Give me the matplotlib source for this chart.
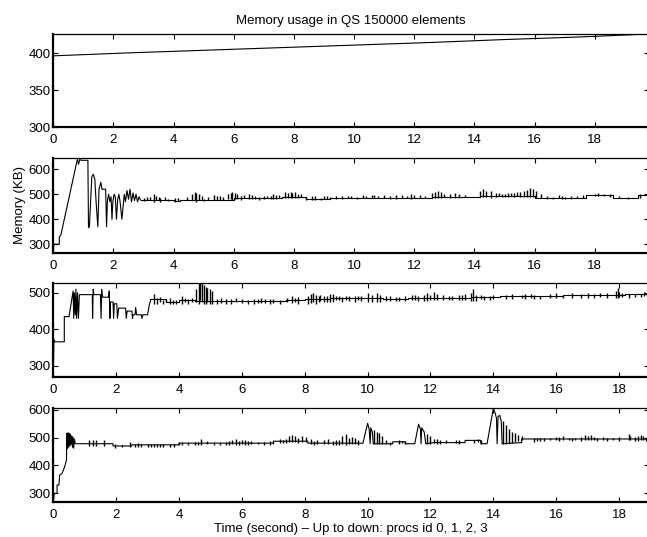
import numpy as np
import matplotlib.pyplot as plt

plt.rcParams['font.family'] = ['Liberation Sans', 'DejaVu Sans']

# proc 0: slow linear growth
t0 = [0, 2.5, 5, 7.5, 10, 12.5, 15, 17.5, 19.8]
m0 = [396.5, 400.5, 404, 407.5, 411, 414.5, 418.5, 422, 426]

# proc 1: start-up transient, then step baseline + spikes
tr1_t = [0, 0.02, 0.2, 0.2, 0.25, 0.8, 0.84, 0.88, 0.92, 1.15, 1.17, 1.2, 1.28, 1.33, 1.38,
         1.42, 1.48, 1.52, 1.58, 1.62, 1.74, 1.77, 1.8, 1.84, 1.88, 1.92, 1.95, 1.98, 2.02,
         2.06, 2.1, 2.14, 2.18, 2.22, 2.28, 2.32, 2.36, 2.4, 2.45, 2.5, 2.55, 2.6, 2.65, 2.7,
         2.75, 2.8, 2.85, 2.9]
tr1_m = [266, 300, 300, 330, 336, 640, 620, 640, 636, 636, 366, 370, 570, 580, 560,
         475, 370, 520, 548, 520, 520, 370, 475, 500, 470, 490, 400, 470, 500,
         490, 400, 480, 500, 470, 400, 450, 500, 470, 515, 480, 520, 470, 505, 475,
         500, 470, 490, 477]
st1_t = [2.9, 4.0, 4.2, 5.3, 6.0, 7.6, 8.4, 9.2, 12.6, 14.2, 16.0, 17.7, 18.6, 19.45, 19.8]
st1_m = [477, 475, 477, 478, 484, 490, 481, 486, 488, 494, 487, 497, 487, 497, 497]
sp1_t = [3.2, 3.35, 3.4, 3.5, 3.55, 4.05, 4.15, 4.6, 4.7, 4.75, 4.85, 4.95, 5.35, 5.45, 5.55,
         5.8, 5.9, 5.95, 6.05, 6.1, 6.5, 6.6, 6.7, 7.0, 7.25, 7.3, 7.4, 7.7, 7.8, 7.9, 7.95,
         8.05, 8.4, 8.6, 8.7, 9.0, 9.2, 9.4, 9.6, 9.9, 10.3, 10.4, 10.8, 11.0, 11.4, 11.6,
         11.9, 12.0, 12.6, 12.7, 12.8, 12.9, 13.2, 13.35, 13.5, 14.2, 14.3, 14.4, 14.55, 14.7,
         14.9, 15.1, 15.3, 15.5, 15.65, 15.75, 15.85, 15.95, 16.05, 16.2, 16.4, 16.6, 16.9,
         17.2, 17.6, 18.0, 18.1, 18.3, 18.5, 19.5,
         3.0, 3.1, 3.7, 3.8, 4.45, 5.0, 5.15, 5.65, 6.25, 6.35, 6.85, 7.1, 7.5, 8.15, 8.25,
         8.9, 9.1, 9.8, 10.1, 10.6, 10.65, 11.2, 11.75, 12.2, 12.35, 13.0, 13.7, 14.8, 15.0,
         15.2, 15.4, 16.8, 17.0, 17.4, 18.8, 19.1]
sp1_lo = [477, 470, 477, 477, 470, 470, 475, 478, 478, 470, 478, 478, 477, 477, 477,
          480, 480, 478, 482, 482, 482, 482, 482, 482, 482, 482, 482, 485, 485, 485, 485,
          485, 478, 478, 478, 480, 480, 482, 482, 484, 484, 484, 484, 484, 480, 484,
          480, 484, 484, 484, 484, 484, 484, 484, 484, 488, 488, 488, 485, 488,
          488, 488, 488, 488, 488, 488, 488, 488, 485, 485, 482, 482, 482,
          482, 485, 492, 492, 492, 488, 485,
          472, 477, 477, 472, 477, 472, 477, 478, 478, 484, 478, 484, 484, 484, 490,
          476, 481, 486, 482, 486, 486, 482, 486, 486, 484, 488, 488, 494, 490,
          494, 494, 487, 482, 487, 487, 482]
sp1_hi = [490, 500, 495, 490, 485, 485, 485, 500, 510, 505, 500, 495, 498, 495, 492,
          500, 505, 510, 505, 500, 500, 498, 495, 492, 495, 500, 498, 510, 505, 508, 505,
          508, 490, 492, 495, 492, 488, 492, 495, 492, 498, 494, 494, 496, 498, 496,
          500, 498, 506, 510, 515, 508, 502, 505, 500, 512, 520, 515, 512, 505,
          502, 505, 504, 508, 512, 518, 525, 520, 512, 500, 495, 490, 492,
          495, 497, 500, 505, 503, 500, 500,
          485, 488, 490, 482, 490, 480, 488, 490, 495, 496, 490, 494, 496, 500, 502,
          487, 492, 494, 490, 496, 498, 492, 495, 498, 492, 500, 498, 505, 502,
          506, 510, 496, 490, 495, 494, 490]

# proc 2
tr2_t = [0, 0.02, 0.04, 0.35, 0.35, 0.5, 0.63, 0.65, 0.67, 0.7, 0.72, 0.74, 0.77, 0.8, 0.83,
         1.24, 1.25, 1.27, 1.29, 1.5, 1.52, 1.54, 1.57, 1.76, 1.78, 1.8, 1.82, 1.9, 1.92,
         1.94, 2.02, 2.04, 2.08, 2.1, 2.3, 2.32, 2.35, 2.5, 2.52, 2.54, 2.6, 2.62, 2.65,
         2.8, 2.82, 2.85, 3.0, 3.05, 3.1]
tr2_m = [270, 372, 366, 366, 435, 435, 505, 430, 500, 440, 510, 430, 500, 430, 495,
         495, 430, 510, 495, 495, 430, 510, 488, 488, 505, 430, 475, 475, 430,
         470, 470, 430, 458, 458, 458, 430, 450, 450, 430, 440, 440, 460, 440,
         440, 430, 440, 440, 465, 482]
st2_t = [3.1, 3.6, 4.0, 4.5, 5.1, 6.2, 7.4, 8.0, 8.8, 10.5, 11.3, 12.3, 13.3, 14.2, 15.3,
         16.2, 17.3, 18.2, 18.95]
st2_m = [482, 476, 480, 478, 477, 478, 480, 482, 485, 483, 487, 485, 488, 490, 492,
         493, 495, 497, 497]
sp2_t = [3.2, 3.3, 3.5, 3.7, 3.9, 4.1, 4.3, 4.55, 4.62, 4.66, 4.72, 4.78, 4.85, 4.9, 4.98,
         5.05, 5.5, 5.8, 6.2, 6.4, 6.6, 6.9, 7.2, 7.6, 7.8, 8.1, 8.2, 8.25, 8.35, 8.5, 8.6,
         8.8, 8.9, 9.2, 9.4, 9.6, 9.8, 10.0, 10.15, 10.3, 10.4, 10.7, 11.0, 11.2, 11.6,
         11.8, 11.9, 12.1, 12.2, 12.4, 12.6, 12.9, 13.1, 13.3, 13.35, 13.45, 13.7, 13.9,
         14.4, 14.9, 15.0, 15.3, 15.5, 16.2, 16.8, 17.2, 17.6, 17.9, 17.95, 18.1, 18.3,
         18.5, 18.7,
         3.4, 3.6, 3.8, 4.2, 4.4, 5.2, 5.35, 5.65, 6.0, 6.5, 6.75, 7.0, 7.45, 7.7, 8.45,
         8.7, 9.0, 9.1, 9.3, 9.7, 10.6, 10.9, 11.4, 11.5, 12.0, 12.7, 13.0, 13.6, 14.0,
         14.6, 15.2, 15.8, 16.0, 16.5, 17.0, 17.4, 18.0, 18.8, 18.9]
sp2_lo = [470, 470, 470, 470, 470, 470, 470, 475, 470, 480, 475, 470, 470, 475, 470,
          470, 470, 475, 470, 470, 472, 470, 470, 472, 470, 470, 472, 475, 470, 478, 475,
          476, 476, 475, 478, 475, 478, 475, 476, 476, 476, 478, 478, 478, 478,
          478, 478, 480, 480, 480, 480, 480, 480, 478, 478, 478, 480, 480,
          482, 485, 484, 484, 484, 485, 485, 485, 486, 485, 485, 488, 486,
          488, 488,
          476, 476, 470, 474, 474, 470, 472, 470, 472, 472, 472, 472, 474, 474, 476,
          476, 479, 479, 479, 479, 477, 477, 481, 481, 481, 480, 480, 482, 482,
          484, 486, 486, 487, 487, 487, 489, 489, 491, 491]
sp2_hi = [498, 485, 480, 485, 480, 490, 482, 510, 526, 526, 526, 520, 515, 512, 510,
          505, 482, 485, 480, 482, 485, 482, 480, 490, 488, 492, 498, 500, 495, 495, 490,
          498, 498, 488, 490, 490, 492, 500, 495, 500, 495, 490, 488, 492, 492,
          495, 500, 503, 498, 495, 490, 495, 498, 500, 510, 495, 492, 490,
          495, 493, 496, 495, 492, 494, 496, 496, 500, 505, 512, 500, 498,
          496, 498,
          488, 484, 480, 486, 485, 482, 485, 482, 482, 484, 484, 482, 486, 485, 490,
          490, 490, 492, 491, 492, 490, 488, 494, 494, 494, 492, 494, 495, 494,
          497, 498, 498, 500, 499, 499, 500, 502, 502, 502]

# proc 3: one long path incl. the bumps near 10, 11.6 and 14 s
tr3_t = [0, 0.03, 0.12, 0.12, 0.18, 0.2, 0.28, 0.36, 0.42, 0.43, 0.45, 0.47, 0.49, 0.51,
         0.53, 0.55, 0.57, 0.59, 0.61, 0.63, 0.65, 0.67, 0.7, 1.9, 1.9, 2.5, 2.5, 4.0, 4.0,
         7.0, 7.0, 8.1, 8.1, 9.85, 10.0, 10.05, 10.08, 10.1, 10.15, 10.18, 10.8, 10.8, 11.2,
         11.2, 11.5, 11.62, 11.68, 11.7, 11.72, 11.8, 11.85, 12.1, 13.1, 13.1, 13.6, 13.6,
         13.8, 14.0, 14.05, 14.1, 14.12, 14.15, 14.2, 14.25, 14.28, 14.9, 14.9, 18.95]
tr3_m = [268, 300, 300, 330, 330, 365, 372, 395, 420, 515, 460, 518, 465, 515,
         470, 512, 475, 505, 465, 500, 462, 495, 478, 478, 470, 470, 474, 474, 480,
         480, 487, 487, 480, 480, 551, 530, 478, 535, 520, 478, 478, 485, 485,
         478, 478, 548, 530, 478, 535, 520, 478, 482, 482, 490, 490, 478,
         478, 605, 590, 570, 478, 575, 580, 560, 478, 482, 495, 495]
sp3_t = [1.25, 1.35, 1.6, 1.95, 2.45, 2.6, 2.7, 3.0, 3.2, 3.4, 3.7, 4.1, 4.3, 4.5, 4.7, 4.9,
         5.3, 5.5, 5.7, 5.8, 6.0, 6.1, 6.3, 6.5, 7.0, 7.3, 7.5, 7.6, 7.7, 7.9, 8.05, 8.2,
         8.4, 8.6, 8.75, 9.0, 9.2, 9.3, 9.4, 9.5, 9.6, 10.2, 10.3, 10.45, 10.6, 11.0, 11.2,
         11.9, 12.0, 12.1, 12.5, 12.8, 13.4, 13.6, 14.3, 14.4, 14.5, 14.6, 14.7, 14.8, 14.9,
         15.3, 15.5, 15.8, 16.0, 16.2, 16.4, 16.6, 16.9, 17.0, 17.1, 17.2, 17.5, 17.8,
         18.3, 18.35, 18.7, 18.75,
         1.15, 2.2, 2.8, 3.1, 3.3, 3.5, 3.85, 4.0, 4.6, 5.1, 5.6, 5.9, 6.2, 6.7, 6.9, 7.2,
         7.4, 7.8, 8.3, 8.9, 9.1, 9.7, 10.35, 10.7, 11.1, 12.2, 12.3, 12.9, 13.5, 15.4,
         15.6, 16.1, 16.5, 16.8, 17.3, 17.6, 18.0, 18.5, 18.6, 18.85]
sp3_lo = [470, 470, 470, 462, 465, 465, 468, 465, 468, 465, 468, 475, 472, 475, 472, 478,
          472, 472, 478, 474, 478, 474, 478, 478, 478, 480, 485, 483, 485, 485, 483, 478,
          476, 476, 478, 475, 478, 475, 478, 476, 478, 478, 476, 478, 478, 478, 478,
          478, 478, 480, 482, 482, 480, 478, 478, 478, 480, 482, 485, 488, 490,
          485, 488, 490, 492, 492, 492, 490, 492, 492, 492, 490, 492, 492,
          492, 492, 490, 492,
          470, 465, 468, 468, 468, 468, 468, 474, 474, 474, 474, 474, 474, 474, 474, 481,
          481, 481, 474, 474, 474, 474, 476, 472, 479, 476, 476, 476, 484, 489,
          489, 489, 489, 489, 489, 489, 489, 489, 489, 489]
sp3_hi = [492, 492, 492, 478, 485, 478, 480, 478, 478, 476, 476, 485, 485, 485, 496, 488,
          485, 485, 490, 495, 490, 492, 488, 485, 485, 492, 505, 510, 505, 505, 502, 495,
          490, 490, 495, 490, 505, 512, 500, 502, 498, 528, 520, 505, 490, 490, 488,
          512, 505, 495, 490, 492, 490, 492, 560, 545, 530, 520, 515, 510, 505,
          497, 500, 500, 502, 505, 500, 500, 510, 505, 508, 502, 502, 500,
          512, 505, 510, 505,
          490, 475, 478, 476, 478, 476, 476, 484, 484, 484, 488, 488, 486, 484, 486, 494,
          496, 500, 488, 488, 492, 490, 515, 484, 488, 495, 490, 490, 495, 500,
          500, 502, 500, 502, 500, 500, 502, 502, 505, 500]

xticks = [0, 2, 4, 6, 8, 10, 12, 14, 16, 18]

fig = plt.figure(figsize=(6.47, 5.37), dpi=100)
W = 647.0
H = 537.0
left = 53.3 / W
width = 1.003 - left
# (top px, bottom px, xmax, ylim, yticks)
panels = [
    (34, 127.3, 19.8, (300, 426), [300, 350, 400]),
    (158.3, 252.7, 19.8, (266, 644), [300, 400, 500, 600]),
    (283.3, 377.3, 18.95, (269, 526), [300, 400, 500]),
    (408.3, 502.3, 18.95, (268, 605), [300, 400, 500, 600]),
]

axes = []
for top, bot, xmax, ylim, yt in panels:
    ax = fig.add_axes([left, 1 - bot / H, width, (bot - top) / H])
    ax.set_xlim(0, xmax)
    ax.set_ylim(*ylim)
    ax.set_xticks(xticks)
    ax.set_yticks(yt)
    ax.tick_params(direction='in', top=True, right=True, length=3.5, width=0.8,
                   labelsize=9.5, colors='black')
    ax.tick_params(axis='x', pad=5)
    ax.tick_params(axis='y', pad=2)
    ax.spines['bottom'].set_linewidth(1.6)
    ax.spines['left'].set_linewidth(1.6)
    ax.spines['top'].set_linewidth(0.9)
    ax.spines['right'].set_linewidth(0.9)
    axes.append(ax)

lw = 0.8
axes[0].plot(t0, m0, color='black', lw=lw)

axes[1].plot(tr1_t, tr1_m, color='black', lw=lw)
axes[1].plot(st1_t, st1_m, color='black', lw=lw, drawstyle='steps-post')
axes[1].vlines(sp1_t, sp1_lo, sp1_hi, color='black', lw=1.0)

axes[2].plot(tr2_t, tr2_m, color='black', lw=lw)
axes[2].plot(st2_t, st2_m, color='black', lw=lw, drawstyle='steps-post')
axes[2].vlines(sp2_t, sp2_lo, sp2_hi, color='black', lw=1.0)

axes[3].plot(tr3_t, tr3_m, color='black', lw=lw)
axes[3].vlines(sp3_t, sp3_lo, sp3_hi, color='black', lw=1.0)

axes[0].set_title('Memory usage in QS 150000 elements', fontsize=9.5, pad=7)
axes[1].set_ylabel('Memory (KB)', fontsize=9.5, labelpad=2)
axes[3].set_xlabel('Time (second) \u2013 Up to down: procs id 0, 1, 2, 3',
                   fontsize=9.5, labelpad=1.5)

fig.savefig('out.png', dpi=100)
